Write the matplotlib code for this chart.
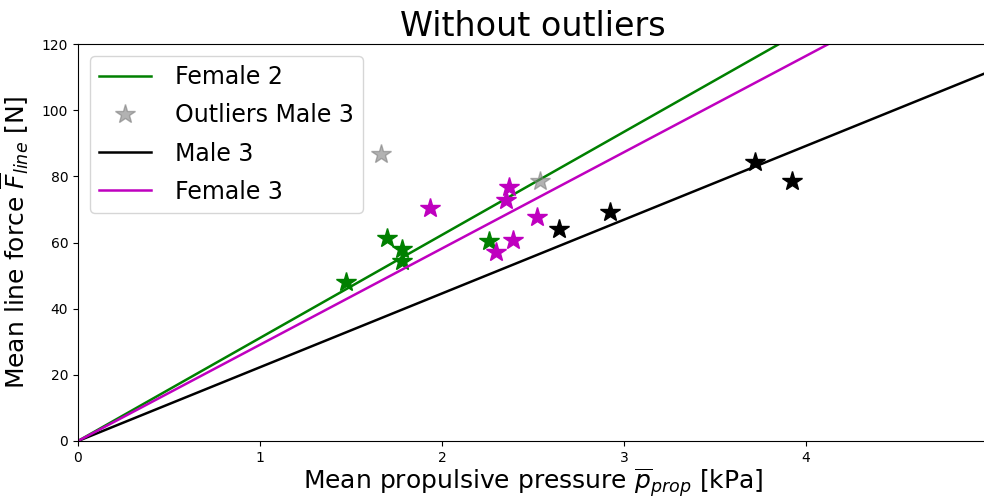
import matplotlib
matplotlib.use("Agg")
import matplotlib.pyplot as plt
import numpy as np

# Data
female2_p = [1.47, 1.70, 1.78, 1.78, 2.26]
female2_f = [48.1, 61.4, 58.0, 54.4, 60.5]
female2_slope = 31.15

female3_p = [1.934, 2.37, 2.35, 2.524, 2.388, 2.298]
female3_f = [70.3, 76.7, 72.9, 67.6, 60.8, 57.0]
female3_slope = 29.1

male3_p = [2.643, 2.923, 3.720, 3.921]
male3_f = [64.0, 69.1, 84.2, 78.7]
male3_slope = 22.3

outl_p = [1.665, 2.538]
outl_f = [86.7, 78.7]

xfit = np.array([0.0, 5.0])

fig = plt.figure(figsize=(9.84, 5.0), dpi=100)
ax = fig.add_axes([78/984, 1-441/500, (988-78)/984, (441-44)/500])

ms = 15
ax.plot(female2_p, female2_f, '*', color='green', markersize=ms)
ax.plot(xfit, female2_slope*xfit, '-', color='green', lw=1.8, label='Female 2')
ax.plot(outl_p, outl_f, '*', color='gray', alpha=0.6, markersize=ms, label='Outliers Male 3')
ax.plot(male3_p, male3_f, '*', color='black', markersize=ms)
ax.plot(xfit, male3_slope*xfit, '-', color='black', lw=1.8, label='Male 3')
ax.plot(female3_p, female3_f, '*', color='m', markersize=ms)
ax.plot(xfit, female3_slope*xfit, '-', color='m', lw=1.8, label='Female 3')

ax.set_xlim(0, 5)
ax.set_ylim(0, 120)
ax.set_xticks([0, 1, 2, 3, 4])
ax.set_yticks([0, 20, 40, 60, 80, 100, 120])
ax.tick_params(labelsize=10)

ax.set_title('Without outliers', fontsize=24)
ax.set_xlabel(r'Mean propulsive pressure $\overline{p}_{prop}$ [kPa]', fontsize=18, labelpad=1)
ax.set_ylabel(r'Mean line force $\overline{F}_{line}$ [N]', fontsize=18, labelpad=8)
ax.legend(loc='upper left', fontsize=17, handlelength=2.2, handletextpad=1.0,
          labelspacing=0.6, borderaxespad=0.5)

fig.savefig('out.png', dpi=100)
